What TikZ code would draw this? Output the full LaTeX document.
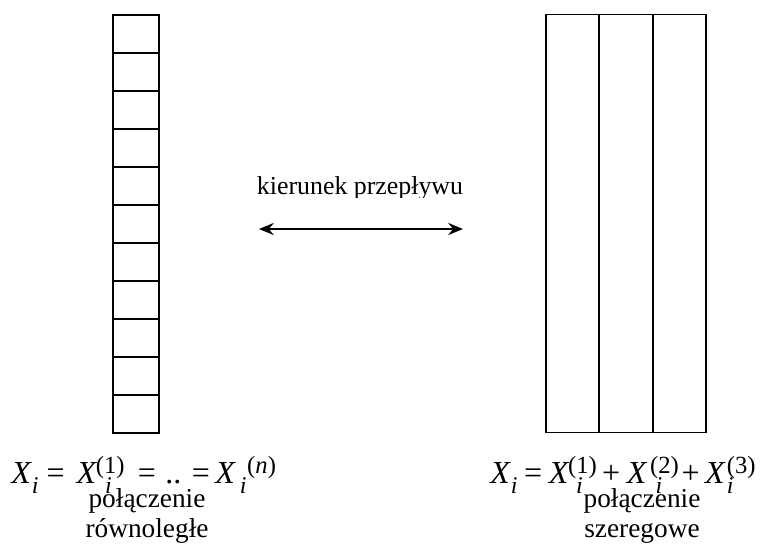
\documentclass[tikz,border=0pt]{standalone}
\usepackage{fontspec}
\setmainfont{Liberation Serif}
\usetikzlibrary{arrows.meta}
\newcommand\fsub{\raisebox{-7.5pt}{\fontsize{18}{18}\selectfont\textit{i}}}
\newcommand\fsup[1]{\raisebox{7.5pt}{\fontsize{18.5}{18.5}\selectfont #1}}
\begin{document}
\begin{tikzpicture}[x=0.75pt,y=-0.75pt,
  cell/.style={draw,line width=1.5pt,minimum width=34.35pt,minimum height=28.5pt,inner sep=0pt},
  tube/.style={draw,line width=1.2pt,minimum width=40pt,minimum height=313.5pt,inner sep=0pt},
  lbl/.style={font=\fontsize{20.5}{22.5}\selectfont,align=center,inner sep=0pt,anchor=base},
  eq/.style={font=\fontsize{24}{28}\selectfont,inner sep=0pt,anchor=base west}]
\useasboundingbox (0,0) rectangle (760,558);
% left column of cells
\foreach \k in {0,...,10}{
  \node[cell] (c\k) at (135.6,{33.7+38*\k}) {};
}
% right tubes
\node[tube] (t1) at (572.6,223.5) {};
\node[tube] (t2) at (626.2,223.5) {};
\node[tube] (t3) at (679.6,223.5) {};
% flow direction
\begin{scope}
\clip (240,150) rectangle (480,197);
\node[lbl,font=\fontsize{19.4}{22}\selectfont] (flow) at (360,194) {kierunek przepływu};
\end{scope}
\coordinate (aL) at (259,229);
\coordinate (aR) at (463,229);
\draw[line width=2.2pt,{Stealth[length=11pt,width=9pt]}-{Stealth[length=11pt,width=9pt]}] (aL) -- (aR);
% formulas
\node[eq] (eqL) at (11,483) {\textit{X}\fsub\hspace{6pt}=\hspace{9pt}\textit{X}\kern-1pt\rlap{\kern7pt\fsub}\fsup{(1)}\hspace{10pt}=\hspace{7pt}..\hspace{8pt}=\hspace{4pt}\textit{X}\kern3pt\fsub\kern0.5pt\fsup{(\textit{n})}};
\node[eq] (eqR) at (490,483) {\textit{X}\fsub\hspace{5pt}=\hspace{5pt}\textit{X}\kern-1pt\rlap{\kern6pt\fsub}\fsup{(1)}\hspace{4pt}+\hspace{5pt}\textit{X}\kern2pt\rlap{\kern4pt\fsub}\fsup{(2)}\hspace{2pt}+\hspace{4pt}\textit{X}\kern1pt\rlap{\fsub}\fsup{(3)}};
% labels
\node[lbl] (labL) at (147,537) {połączenie\\równoległe};
\node[lbl] (labR) at (642,537) {połączenie\\szeregowe};
\end{tikzpicture}
\end{document}
